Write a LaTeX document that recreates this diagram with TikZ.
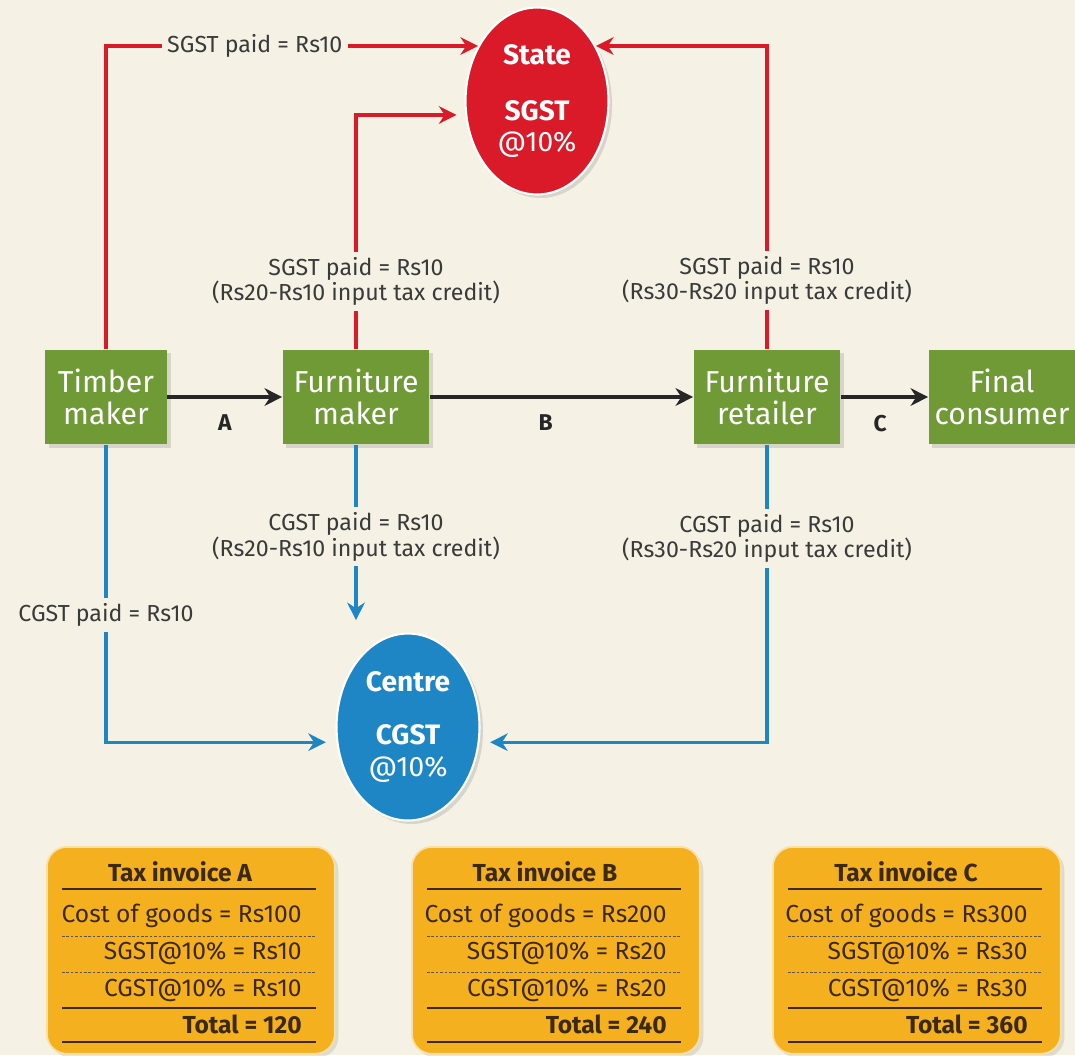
\documentclass[tikz,border=0pt]{standalone}
\usepackage{fontspec}
\setmainfont{Fira Sans}
\usetikzlibrary{arrows.meta,shapes.geometric,shadows}

\definecolor{paper}{HTML}{F5F1E4}
\definecolor{statered}{HTML}{DA1A28}
\definecolor{centreblue}{HTML}{1E86C4}
\definecolor{firmgreen}{HTML}{6F9A36}
\definecolor{invoiceorange}{HTML}{F5B020}
\definecolor{inkbrown}{HTML}{3C2A10}
\definecolor{labelgray}{HTML}{3A3A3A}

\begin{document}
\begin{tikzpicture}[x=0.02cm,y=-0.02cm]\tikzset{
	firm/.style = {shape=rectangle, fill=firmgreen, text=white, align=center, minimum width=2.94cm, minimum height=1.9cm, inner sep=1pt, font=\fontsize{17.2}{18}\selectfont, drop shadow={shadow xshift=2pt, shadow yshift=-2pt, opacity=.25}},
	govt/.style = {shape=ellipse, draw=white, line width=1.2pt, text=white, align=center, minimum width=2.86cm, minimum height=3.74cm, inner sep=0pt, font=\fontsize{16}{18}\selectfont, drop shadow={shadow xshift=2pt, shadow yshift=-2pt, opacity=.25}},
	sgst/.style = {draw=statered, line width=1.8pt, -{Stealth[length=10pt,width=10pt]}},
	cgst/.style = {draw=centreblue, line width=1.8pt, -{Stealth[length=10pt,width=10pt]}},
	goods/.style = {draw=black!85, line width=1.8pt, -{Stealth[length=10pt,width=10pt]}},
	paid/.style = {fill=paper, text=labelgray, align=center, inner sep=3pt, font=\fontsize{13.2}{14.5}\selectfont},
	stage/.style = {text=black!85, font=\bfseries\fontsize{13}{13}\selectfont},
	invoice/.style = {rounded corners=0.4cm, fill=invoiceorange, draw=white!60!invoiceorange, line width=1pt, minimum width=5.76cm, minimum height=4.14cm, drop shadow={shadow xshift=2pt, shadow yshift=-2pt, opacity=.2}},
	invtitle/.style = {text=inkbrown, font=\bfseries\fontsize{14}{14}\selectfont},
	invrow/.style = {text=inkbrown, anchor=east, inner sep=0pt, font=\fontsize{14}{14}\selectfont},
	solidrule/.style = {draw=inkbrown, line width=0.9pt},
	dashrule/.style = {draw=inkbrown!80, line width=0.5pt, dash pattern=on 1.5pt off 1pt}
}

	\useasboundingbox[fill=paper] (0,0) rectangle (1075,1055);

	\node[firm] (timber) at (106,397) [minimum width=2.44cm] {Timber\\maker};
	\node[firm] (fmaker) at (356,397) {Furniture\\maker};
	\node[firm] (retailer) at (767,397) {Furniture\\retailer};
	\node[firm] (consumer) at (1002,397) {Final\\consumer};

	\node[govt, fill=statered] (state) at (537,101) {\textbf{State}\\[14pt]\textbf{SGST}\\@10\%};
	\node[govt, fill=centreblue] (centre) at (408,727) {\textbf{Centre}\\[12pt]\textbf{CGST}\\@10\%};

	\draw[goods] (timber) -- node[stage, below=6pt] (A) {A} (fmaker);
	\draw[goods] (fmaker) -- node[stage, below=6pt, pos=0.44] (B) {B} (retailer);
	\draw[goods] (retailer) -- node[stage, below=6pt, pos=0.45] (C) {C} (consumer);

	\draw[sgst] (timber.north) |- node[paid, pos=0.7] (s1) {SGST paid = Rs10} (state.137);
	\draw[sgst, shorten >=5pt] (fmaker.north) |- node[paid, pos=0.145] (s2) {SGST paid = Rs10\\(Rs20-Rs10 input tax credit)} (state.191);
	\draw[sgst] (retailer.north) |- node[paid, pos=0.113] (s3) {SGST paid = Rs10\\(Rs30-Rs20 input tax credit)} (state.43);

	\draw[cgst, shorten >=6pt] (timber.south) |- node[paid, pos=0.286] (c1) {CGST paid = Rs10} (centre.192);
	\draw[cgst, shorten >=7pt] (fmaker.south) -- node[paid, pos=0.49] (c2) {CGST paid = Rs10\\(Rs20-Rs10 input tax credit)} (fmaker.south |- centre.north);
	\draw[cgst, shorten >=6pt] (retailer.south) |- node[paid, pos=0.157] (c3) {CGST paid = Rs10\\(Rs30-Rs20 input tax credit)} (centre.348);

	\foreach \x/\n/\cost/\tax/\tot in {46/A/100/10/120, 411/B/200/20/240, 772/C/300/30/360} {
		\node[invoice, anchor=north west] (inv\n) at (\x,846) {};
		\node[invtitle] (title\n) at (\x+134,872) {Tax invoice \n};
		\draw[solidrule] (\x+16,889) -- (\x+270,889);
		\node[invrow] (cost\n) at (\x+256,916) {Cost of goods = Rs\cost};
		\draw[dashrule] (\x+16,936) -- (\x+270,936);
		\node[invrow] (sgst\n) at (\x+256,953) {SGST@10\% = Rs\tax};
		\draw[dashrule] (\x+16,972) -- (\x+270,972);
		\node[invrow] (cgst\n) at (\x+256,990) {CGST@10\% = Rs\tax};
		\draw[solidrule] (\x+16,1008) -- (\x+270,1008);
		\node[invrow] (total\n) at (\x+256,1024) {\textbf{Total = \tot}};
		\draw[solidrule] (\x+16,1042) -- (\x+270,1042);
	}
\end{tikzpicture}
\end{document}
